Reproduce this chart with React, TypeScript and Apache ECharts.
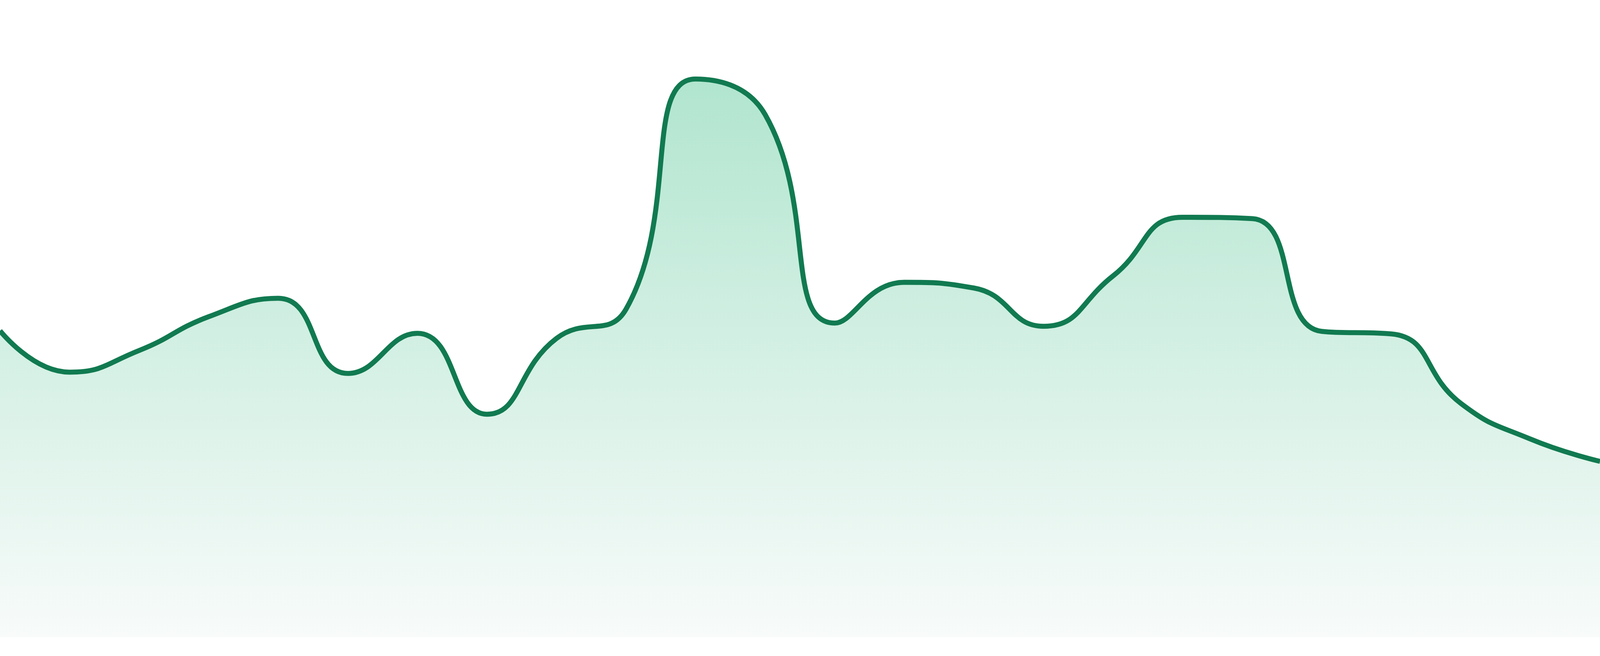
import React, { useEffect, useRef } from "react";
import * as echarts from "echarts";

const categories: string[] = [
  "1", "2", "3", "4", "5", "6", "7", "8", "9", "10", "11", "12",
  "13", "14", "15", "16", "17", "18", "19", "20", "21", "22", "23", "24",
];

const values: number[] = [
  48.1, 41.6, 45.0, 50.3, 53.2, 41.4, 47.7, 35.0, 46.9, 51.5, 87.6, 82.0,
  49.3, 55.7, 54.8, 48.8, 56.7, 65.9, 65.7, 48.0, 47.6, 36.7, 31.1, 27.6,
];

const yMin = 0;
const yMax = 100;

const lineColor = "#117a50";
const areaTop = "#b1e5cf";
const areaBottom = "#f8fbfa";

// design reference size (screenshot pixels)
const REF_W = 4800;
const REF_H = 1680;

export default function App() {
  const ref = useRef<HTMLDivElement>(null);

  useEffect(() => {
    const el = ref.current;
    if (!el) return;
    const w = el.clientWidth || REF_W;
    const h = el.clientHeight || REF_H;
    const sx = w / REF_W;
    const sy = h / REF_H;
    const chart = echarts.init(el, undefined, { renderer: "svg" });
    chart.setOption({
      animation: false,
      backgroundColor: "#ffffff",
      grid: { left: 0, right: 0, top: 0, bottom: 48 * sy, containLabel: false },
      xAxis: {
        type: "category",
        data: categories,
        boundaryGap: false,
        show: false,
      },
      yAxis: {
        type: "value",
        min: yMin,
        max: yMax,
        show: false,
      },
      series: [
        {
          type: "line",
          data: values,
          smooth: true,
          showSymbol: false,
          symbol: "none",
          lineStyle: { color: lineColor, width: 15 * sx },
          itemStyle: { color: lineColor },
          areaStyle: {
            opacity: 1,
            color: new echarts.graphic.LinearGradient(0, 0, 0, 1, [
              { offset: 0, color: areaTop },
              { offset: 1, color: areaBottom },
            ]),
          },
        },
      ],
    });
    return () => chart.dispose();
  }, []);

  return (
    <div
      ref={ref}
      style={{
        position: "fixed",
        left: 0,
        top: 0,
        width: "100vw",
        height: "100vh",
        background: "#ffffff",
        overflow: "hidden",
      }}
    />
  );
}
